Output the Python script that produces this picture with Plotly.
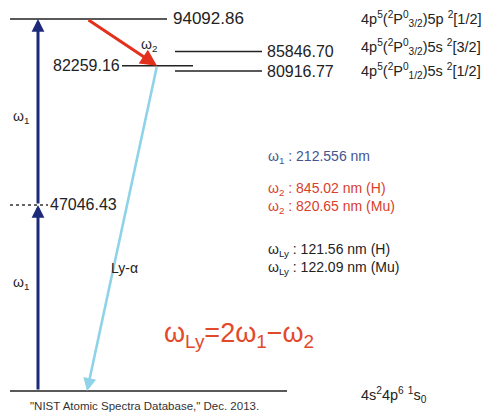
import plotly.graph_objects as go

# Energy levels of Kr (cm^-1), NIST ASD
level_values = [94092.86, 85846.70, 82259.16, 80916.77, 47046.43, 0.0]
level_labels = ["94092.86", "85846.70", "82259.16", "80916.77", "47046.43", ""]
term_labels = [
    "4p<sup>5</sup>(<sup>2</sup>P<sup>0</sup><sub>3/2</sub>)5p <sup>2</sup>[1/2]",
    "4p<sup>5</sup>(<sup>2</sup>P<sup>0</sup><sub>3/2</sub>)5s <sup>2</sup>[3/2]",
    "4p<sup>5</sup>(<sup>2</sup>P<sup>0</sup><sub>1/2</sub>)5s <sup>2</sup>[1/2]",
    "4s<sup>2</sup>4p<sup>6</sup> <sup>1</sup>s<sub>0</sub>",
]
wavelength_lines = [
    ("ω<sub>1</sub> : 212.556 nm", "#44558f"),
    ("ω<sub>2</sub> : 845.02 nm (H)", "#d8402a"),
    ("ω<sub>2</sub> : 820.65 nm (Mu)", "#d8402a"),
    ("ω<sub>Ly</sub> : 121.56 nm (H)", "#222222"),
    ("ω<sub>Ly</sub> : 122.09 nm (Mu)", "#222222"),
]

FONT = "Liberation Sans, Arial, sans-serif"
W, H = 499, 413
Y0, Y1 = -5564, 98888

def py(p):
    """paper-y from a vertical pixel position"""
    return 1 - p / H

fig = go.Figure()
fig.add_trace(go.Scatter(x=[0, W], y=[Y0, Y1], mode="markers",
                         marker=dict(opacity=0), hoverinfo="skip", showlegend=False))

E_top, E_p32, E_mid, E_p12, E_half, E_gs = level_values

# level lines
seg = [(10, 167), (175, 262), (122, 193), (175, 262), None, (10, 287)]
for e, s in zip(level_values, seg):
    if s is None:
        continue
    fig.add_shape(type="line", x0=s[0], x1=s[1], y0=e, y1=e, xref="x", yref="y",
                  line=dict(color="#222222", width=1.6))
# virtual level (dotted)
fig.add_shape(type="line", x0=10, x1=48, y0=E_half, y1=E_half, xref="x", yref="y",
              line=dict(color="#333333", width=1.3, dash="dot"))

# level values
fig.add_annotation(x=171, y=E_top, text=level_labels[0], xanchor="left", showarrow=False,
                   font=dict(size=17))
fig.add_annotation(x=265, y=E_p32, text=level_labels[1], xanchor="left", showarrow=False)
fig.add_annotation(x=122, y=E_mid, text=level_labels[2], xanchor="right", showarrow=False)
fig.add_annotation(x=265, y=E_p12, text=level_labels[3], xanchor="left", showarrow=False)
fig.add_annotation(x=48, y=E_half, text=level_labels[4], xanchor="left", showarrow=False)

# term designations
for txt, e, dy in zip(term_labels, [E_top, E_p32, E_p12, E_gs], [0, -5, 0, 4]):
    fig.add_annotation(x=359, y=e, yshift=-dy, text=txt, xanchor="left", showarrow=False,
                       font=dict(size=14.5, color="#222222"))

# transitions
def arrow(x0, e0, x1, e1, color, width, size):
    fig.add_annotation(x=x1, y=e1, ax=x0, ay=e0, xref="x", yref="y", axref="x", ayref="y",
                       text="", showarrow=True, arrowhead=2, arrowsize=size,
                       arrowwidth=width, arrowcolor=color, standoff=0, startstandoff=0)

arrow(38, E_gs, 38, E_half, "#1d2a7a", 3, 0.85)
arrow(38, E_half, 38, E_top, "#1d2a7a", 3, 0.85)
arrow(87, E_top, 157, E_mid, "#e2301c", 3, 1.1)
arrow(157, E_mid, 87, E_gs, "#8fd3e8", 2.6, 1.0)

# transition labels
fig.add_annotation(x=11, y=py(106), yref="paper", text="ω<sub>1</sub>", xanchor="left",
                   showarrow=False, font=dict(size=14))
fig.add_annotation(x=11, y=py(294), yref="paper", text="ω<sub>1</sub>", xanchor="left",
                   showarrow=False, font=dict(size=14))
fig.add_annotation(x=139, y=py(34), yref="paper", text="ω<sub>2</sub>", xanchor="left",
                   showarrow=False, font=dict(size=14))
fig.add_annotation(x=109, y=py(268), yref="paper", text="Ly-α", xanchor="left",
                   showarrow=False, font=dict(size=14))

# wavelength list
for (txt, col), p in zip(wavelength_lines, [157, 189, 207, 250, 268]):
    fig.add_annotation(x=266, y=py(p), yref="paper", text=txt, xanchor="left",
                       showarrow=False, font=dict(size=14, color=col))

# four-wave mixing relation
fig.add_annotation(x=162, y=py(354), yref="paper",
                   text="ω<sub>Ly</sub>=2ω<sub>1</sub>−ω<sub>2</sub>", xanchor="left",
                   showarrow=False, font=dict(size=27, color="#e2492a"))

# reference
fig.add_annotation(x=29, y=0, yref="paper", yanchor="bottom", borderpad=0,
                   text="\"NIST Atomic Spectra Database,\" Dec. 2013.", xanchor="left",
                   showarrow=False, font=dict(size=11.5, color="#333333"))

fig.update_layout(
    width=W, height=H, margin=dict(l=0, r=0, t=0, b=0),
    paper_bgcolor="white", plot_bgcolor="white",
    font=dict(family=FONT, size=16, color="#222222"),
    xaxis=dict(range=[0, W], visible=False, fixedrange=True),
    yaxis=dict(range=[Y0, Y1], visible=False, fixedrange=True),
    showlegend=False,
)
fig.write_html("out.html")
